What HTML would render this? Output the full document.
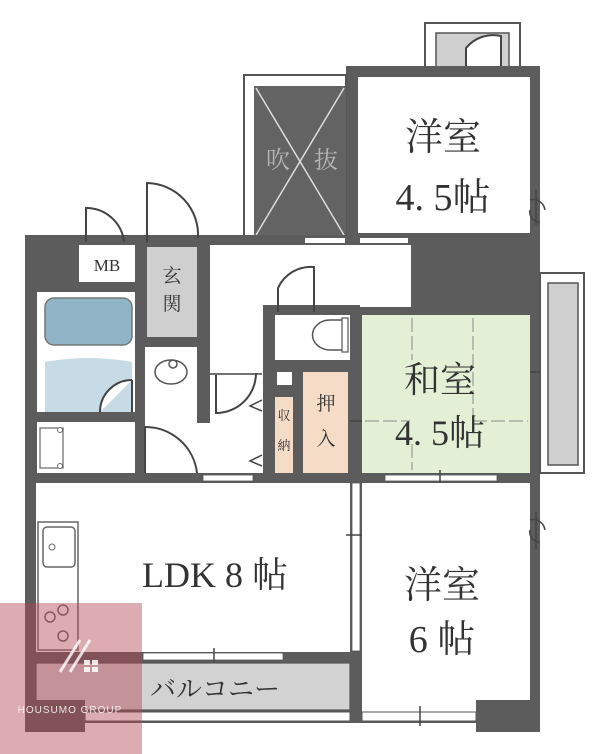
<!DOCTYPE html>
<html><head><meta charset="utf-8"><style>
html,body{margin:0;padding:0;background:#fff;}
svg{display:block;}
.s{font-family:"Liberation Serif","Noto Serif CJK SC",serif;fill:#333;}
</style></head><body>
<svg width="600" height="754" viewBox="0 0 600 754" xmlns="http://www.w3.org/2000/svg">
<!-- top small balcony -->
<rect x="425" y="23" width="95" height="50" fill="#fff" stroke="#555" stroke-width="2"/>
<rect x="436" y="33" width="73" height="40" fill="#cfcfcf" stroke="#555" stroke-width="1.5"/>
<path d="M466 70 V48 A35 35 0 0 1 501 36 V70" fill="#fff" stroke="#444" stroke-width="2"/>
<!-- 洋室 top -->
<rect x="346" y="66" width="194" height="176" fill="#5c5c5c"/>
<rect x="358" y="77" width="172" height="156" fill="#fff"/>
<!-- 吹抜 -->
<rect x="244" y="75" width="102" height="167" fill="#fff" stroke="#555" stroke-width="2"/>
<rect x="254" y="86" width="92" height="151" fill="#636363"/>
<line x1="256" y1="88" x2="344" y2="235" stroke="#ddd" stroke-width="1.5"/>
<line x1="344" y1="88" x2="256" y2="235" stroke="#ddd" stroke-width="1.5"/>
<text x="266" y="168" font-size="24" fill="#b5b5b5" class="s" style="fill:#b5b5b5">吹</text>
<text x="314" y="168" font-size="24" class="s" style="fill:#b5b5b5">抜</text>
<!-- body -->
<rect x="25" y="235" width="515" height="488" fill="#5c5c5c"/>
<!-- top wall windows -->
<rect x="305" y="238" width="40" height="5" fill="#fff"/>
<rect x="360" y="238" width="48" height="5" fill="#fff"/>
<!-- MB -->
<rect x="79" y="245" width="56" height="37" fill="#fff"/>
<text x="107" y="271" font-size="17" text-anchor="middle" class="s">MB</text>
<!-- doors above MB & genkan -->
<path d="M86 242 V208 A38 38 0 0 1 124 242" fill="none" stroke="#444" stroke-width="2"/>
<path d="M147 242 V183 A52 52 0 0 1 198 238" fill="none" stroke="#444" stroke-width="2"/>
<!-- bath -->
<rect x="37" y="292" width="98" height="120" fill="#fff"/>
<rect x="45" y="298" width="87" height="47" rx="9" fill="#8fb4c6" stroke="#777" stroke-width="1.5"/>
<path d="M45 362 Q88 354 132 362 V412 H45 Z" fill="#c6dbe5"/>
<path d="M100 412 A32 32 0 0 1 132 380" fill="#fff" stroke="#444" stroke-width="2"/>
<line x1="132" y1="380" x2="132" y2="412" stroke="#444" stroke-width="2"/>
<rect x="37" y="422" width="98" height="51" fill="#fff"/>
<rect x="40" y="428" width="23" height="40" fill="none" stroke="#666" stroke-width="1.2"/>
<circle cx="60" cy="430" r="2.5" fill="#fff" stroke="#666"/><circle cx="60" cy="466" r="2.5" fill="#fff" stroke="#666"/>
<!-- genkan -->
<rect x="147" y="247" width="50" height="90" fill="#cfcfcf"/>
<text x="172" y="282" font-size="19" text-anchor="middle" class="s">玄</text>
<text x="172" y="310" font-size="19" text-anchor="middle" class="s">関</text>
<!-- washroom / hall -->
<rect x="145" y="347" width="118" height="126" fill="#fff"/>
<rect x="197" y="345" width="13" height="78" fill="#5c5c5c"/>
<rect x="210" y="245" width="201" height="62" fill="#fff"/>
<rect x="210" y="300" width="53" height="70" fill="#fff"/>
<ellipse cx="171" cy="372" rx="16" ry="12" fill="#fff" stroke="#555" stroke-width="1.5"/>
<circle cx="173" cy="364" r="4" fill="none" stroke="#555" stroke-width="1.5"/>
<path d="M145 427 A52 52 0 0 1 197 473" fill="none" stroke="#444" stroke-width="2"/>
<line x1="145" y1="427" x2="145" y2="473" stroke="#444" stroke-width="2"/>
<path d="M216 375 V413 A40 40 0 0 0 256 373" fill="none" stroke="#444" stroke-width="2"/>
<line x1="210" y1="374" x2="262" y2="374" stroke="#444" stroke-width="1.5"/>
<path d="M262 400 L250 406 L262 411" fill="none" stroke="#444" stroke-width="1.5"/>
<path d="M262 455 L250 461 L262 466" fill="none" stroke="#444" stroke-width="1.5"/>
<!-- toilet -->
<rect x="263" y="305" width="97" height="82" fill="#5c5c5c"/>
<rect x="275" y="315" width="75" height="45" fill="#fff"/>
<path d="M347 320 H330 A14 12 0 0 0 330 350 H347 Z" fill="#fff" stroke="#555" stroke-width="1.5"/>
<rect x="342" y="318" width="6" height="34" fill="#fff" stroke="#555" stroke-width="1.2"/>
<path d="M278 312 V288 A36 36 0 0 1 314 267 V312" fill="none" stroke="#444" stroke-width="2"/>
<rect x="277" y="372" width="15" height="13" fill="#fff"/>
<!-- storage -->
<rect x="275" y="397" width="18" height="76" fill="#f5dcc6"/>
<text x="284" y="420" font-size="13" text-anchor="middle" class="s">収</text>
<text x="284" y="450" font-size="13" text-anchor="middle" class="s">納</text>
<rect x="303" y="372" width="45" height="101" fill="#f5dcc6"/>
<text x="326" y="410" font-size="19" text-anchor="middle" class="s">押</text>
<text x="326" y="445" font-size="19" text-anchor="middle" class="s">入</text>
<!-- washitsu -->
<rect x="362" y="315" width="168" height="158" fill="#e4f0d5"/>
<line x1="412" y1="318" x2="412" y2="470" stroke="#888" stroke-width="1" stroke-dasharray="14 4"/>
<line x1="365" y1="421" x2="528" y2="421" stroke="#888" stroke-width="1" stroke-dasharray="14 4"/>
<line x1="473" y1="318" x2="473" y2="421" stroke="#888" stroke-width="1" stroke-dasharray="14 4"/>
<rect x="410" y="360" width="62" height="80" fill="#e4f0d5"/>
<text x="440" y="392" font-size="36" text-anchor="middle" class="s">和室</text>
<text x="440" y="445" font-size="36" text-anchor="middle" class="s">4. 5帖</text>
<line x1="350" y1="421" x2="362" y2="421" stroke="#444" stroke-width="1.5"/>
<!-- right balcony -->
<rect x="540" y="273" width="44" height="200" fill="#fff" stroke="#555" stroke-width="2"/>
<rect x="548" y="283" width="30" height="182" fill="#cfcfcf" stroke="#555" stroke-width="1.5"/>
<line x1="530" y1="372" x2="540" y2="372" stroke="#444" stroke-width="1.5"/>
<!-- top 洋室 text -->
<text x="443" y="150" font-size="38" text-anchor="middle" class="s">洋室</text>
<text x="443" y="210" font-size="38" text-anchor="middle" class="s">4. 5帖</text>
<path d="M530 200 A12 12 0 0 1 545 210 M530 210 A10 10 0 0 0 540 222" fill="none" stroke="#444" stroke-width="1.5"/>
<line x1="536" y1="190" x2="536" y2="225" stroke="#444" stroke-width="1.5"/>
<!-- wall windows y473-483 -->
<rect x="203" y="475" width="50" height="6" fill="#fff" stroke="#555" stroke-width="0.8"/>
<rect x="385" y="475" width="112" height="6" fill="#fff" stroke="#555" stroke-width="0.8"/>
<line x1="440" y1="470" x2="440" y2="487" stroke="#444" stroke-width="1.5"/>
<!-- LDK -->
<rect x="36" y="483" width="314" height="169" fill="#fff"/>
<rect x="38" y="522" width="40" height="128" fill="#fff" stroke="#666" stroke-width="1.5"/>
<rect x="43" y="527" width="32" height="40" rx="4" fill="#fff" stroke="#666" stroke-width="1.5"/>
<circle cx="52" cy="547" r="3" fill="none" stroke="#666"/>
<circle cx="50" cy="617" r="5" fill="none" stroke="#666" stroke-width="1.5"/>
<circle cx="63" cy="610" r="5" fill="none" stroke="#666" stroke-width="1.5"/>
<circle cx="63" cy="636" r="5" fill="none" stroke="#666" stroke-width="1.5"/>
<text x="215" y="587" font-size="36" text-anchor="middle" class="s">LDK 8 帖</text>
<!-- divider window -->
<rect x="352" y="483" width="8" height="168" fill="#fff" stroke="#555" stroke-width="0.8"/>
<line x1="346" y1="535" x2="366" y2="535" stroke="#444" stroke-width="1.5"/>
<!-- 洋室6 -->
<rect x="362" y="483" width="168" height="229" fill="#fff"/>
<text x="442" y="598" font-size="38" text-anchor="middle" class="s">洋室</text>
<text x="442" y="652" font-size="38" text-anchor="middle" class="s">6 帖</text>
<path d="M530 520 A12 12 0 0 1 545 530 M530 530 A10 10 0 0 0 540 542" fill="none" stroke="#444" stroke-width="1.5"/>
<line x1="536" y1="512" x2="536" y2="550" stroke="#444" stroke-width="1.5"/>
<!-- balcony -->
<rect x="143" y="653" width="140" height="7" fill="#fff" stroke="#555" stroke-width="0.8"/>
<line x1="214" y1="648" x2="214" y2="665" stroke="#444" stroke-width="1.5"/>
<rect x="36" y="663" width="314" height="47" fill="#d2d2d2" stroke="#555" stroke-width="1.2"/>
<text x="215" y="698" font-size="26" text-anchor="middle" class="s">バルコニー</text>
<rect x="85" y="712" width="265" height="9" fill="#fff" stroke="#555" stroke-width="1"/>
<rect x="362" y="712" width="114" height="9" fill="#fff" stroke="#555" stroke-width="1"/>
<line x1="420" y1="706" x2="420" y2="726" stroke="#444" stroke-width="1.5"/>
<rect x="476" y="700" width="64" height="32" fill="#5c5c5c"/>
<rect x="25" y="700" width="60" height="32" fill="#5c5c5c"/>
<!-- watermark -->
<rect x="0" y="603" width="142" height="151" fill="rgba(180,70,85,0.45)"/>
<path d="M60 672 L80 640 M70 672 L90 640" stroke="rgba(255,255,255,0.8)" stroke-width="3"/>
<rect x="84" y="660" width="6" height="5" fill="rgba(255,255,255,0.85)"/><rect x="92" y="660" width="6" height="5" fill="rgba(255,255,255,0.85)"/>
<rect x="84" y="667" width="6" height="5" fill="rgba(255,255,255,0.85)"/><rect x="92" y="667" width="6" height="5" fill="rgba(255,255,255,0.85)"/>
<text x="70" y="713" font-size="10" text-anchor="middle" font-family="Liberation Sans, sans-serif" fill="rgba(255,255,255,0.85)" letter-spacing="1">HOUSUMO GROUP</text>
</svg>
</body></html>
